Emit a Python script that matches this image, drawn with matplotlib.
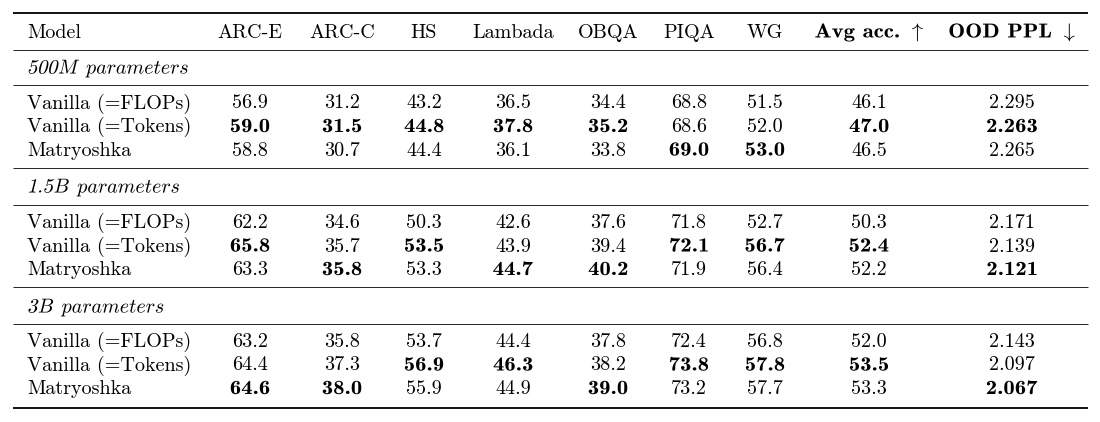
import numpy as np
import matplotlib
matplotlib.use("Agg")
from matplotlib import pyplot as plt
from matplotlib.textpath import TextPath, TextToPath
from matplotlib.patches import PathPatch
from matplotlib.font_manager import FontProperties
from matplotlib.transforms import Affine2D

plt.rcParams['mathtext.fontset'] = 'cm'

# 表格数据
columns = ['ARC-E', 'ARC-C', 'HS', 'Lambada', 'OBQA', 'PIQA', 'WG']
models = ['Vanilla (=FLOPs)', 'Vanilla (=Tokens)', 'Matryoshka']
sections = [('500', 'M'), ('1.5', 'B'), ('3', 'B')]

acc_500m = [[56.9, 31.2, 43.2, 36.5, 34.4, 68.8, 51.5, 46.1],
            [59.0, 31.5, 44.8, 37.8, 35.2, 68.6, 52.0, 47.0],
            [58.8, 30.7, 44.4, 36.1, 33.8, 69.0, 53.0, 46.5]]
acc_1_5b = [[62.2, 34.6, 50.3, 42.6, 37.6, 71.8, 52.7, 50.3],
            [65.8, 35.7, 53.5, 43.9, 39.4, 72.1, 56.7, 52.4],
            [63.3, 35.8, 53.3, 44.7, 40.2, 71.9, 56.4, 52.2]]
acc_3b = [[63.2, 35.8, 53.7, 44.4, 37.8, 72.4, 56.8, 52.0],
          [64.4, 37.3, 56.9, 46.3, 38.2, 73.8, 57.8, 53.5],
          [64.6, 38.0, 55.9, 44.9, 39.0, 73.2, 57.7, 53.3]]
ppl_500m = [2.295, 2.263, 2.265]
ppl_1_5b = [2.171, 2.139, 2.121]
ppl_3b = [2.143, 2.097, 2.067]

acc_all = [acc_500m, acc_1_5b, acc_3b]
ppl_all = [ppl_500m, ppl_1_5b, ppl_3b]

# 布局（像素坐标，y 向下）
W, H = 1100, 422
model_x = 27
col_x = [250, 342, 424, 513, 608, 689, 765, 869, 1012]
x_left, x_right = 13, 1088
fs = 14.5
bold_stretch = 1.13   # cmb10 拉宽，近似 cmbx10

fig = plt.figure(figsize=(W / 100, H / 100), dpi=100)
ax = fig.add_axes([0, 0, 1, 1])
ax.set_xlim(0, W)
ax.set_ylim(H, 0)
ax.axis('off')
px = fig.dpi / 72
t2p = TextToPath()


def rule(y, lw):
    ax.plot([x_left, x_right], [y, y], color='black', lw=lw, solid_capstyle='butt')


def cell(x, y, s, ha='center'):
    ax.text(x, y, s, ha=ha, va='baseline', fontsize=fs, family='cmr10')


def path_text(x, y, s, family, sx=1.0, slant=0.0, ha='left'):
    """
    用 TextPath 画文字（可拉宽、可倾斜），返回画完后的右端 x。
    """
    prop = FontProperties(family=family, size=fs)
    path = TextPath((0, 0), s, prop=prop)
    if ha == 'center':
        ext = path.get_extents()
        x0 = x - (ext.x0 + ext.width / 2) * sx * px
    else:
        x0 = x
    tr = Affine2D().skew_deg(slant, 0).scale(sx * px, px).translate(x0, H - y)
    fig.add_artist(PathPatch(path, transform=tr, color='black', lw=0))
    w, _, _ = t2p.get_text_width_height_descent(s, prop, ismath=False)
    return x0 + w * sx * px


def bold_cell(x, y, s):
    path_text(x, y, s, 'cmb10', sx=bold_stretch, ha='center')


def italic_label(x, y, num, unit):
    # 数字用倾斜的 cmr10，字母用 cmmi10
    cursor = path_text(x, y, num, 'cmr10', slant=14) + 0.04 * fs * px
    cursor = path_text(cursor, y, unit, 'cmmi10') + 0.42 * fs * px
    path_text(cursor, y, 'parameters', 'cmmi10')


# 表头
rule(13, 1.3)
head_y = 37.5
cell(model_x, head_y, 'Model', ha='left')
for x, name in zip(col_x, columns):
    cell(x, head_y, name)
path_text(col_x[7], head_y, r'Avg acc. $\uparrow$', 'cmb10', sx=bold_stretch, ha='center')
path_text(col_x[8], head_y, r'OOD PPL $\downarrow$', 'cmb10', sx=bold_stretch, ha='center')
rule(50, 0.6)

label_y = [73.5, 192.5, 312.5]
top_rules = [85, 205, 324]
row_y0 = [108.5, 228, 347]
mid_rules = [168, 287]

for k in range(3):
    italic_label(model_x, label_y[k], *sections[k])
    rule(top_rules[k], 0.6)
    acc = np.array(acc_all[k])
    ppl = np.array(ppl_all[k])
    best_acc = acc.argmax(axis=0)
    best_ppl = ppl.argmin()
    for i, m in enumerate(models):
        y = row_y0[k] + 23.5 * i
        cell(model_x, y, m, ha='left')
        for j in range(acc.shape[1]):
            s = f'{acc[i, j]:.1f}'
            if best_acc[j] == i:
                bold_cell(col_x[j], y, s)
            else:
                cell(col_x[j], y, s)
        s = f'{ppl[i]:.3f}'
        if best_ppl == i:
            bold_cell(col_x[8], y, s)
        else:
            cell(col_x[8], y, s)
    if k < 2:
        rule(mid_rules[k], 0.6)

rule(408, 1.3)

fig.savefig('out.png', dpi=100)
